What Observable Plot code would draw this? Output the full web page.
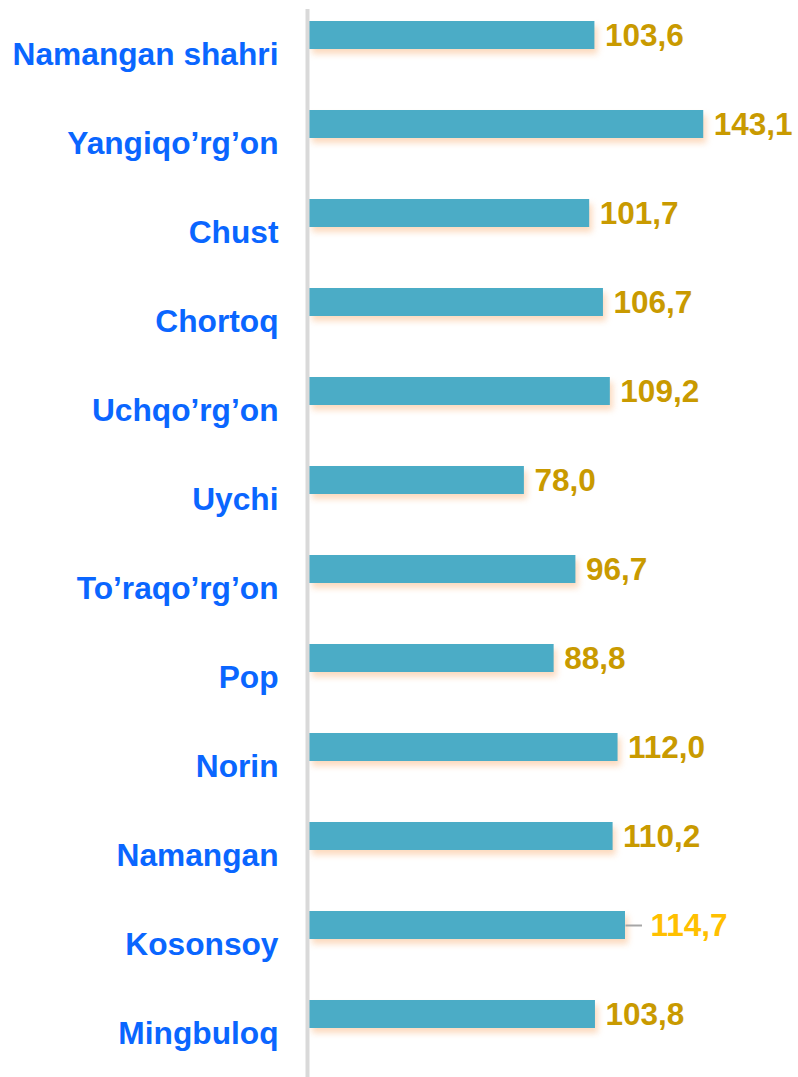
<!DOCTYPE html>
<html>
<head>
<meta charset="utf-8">
<script src="https://cdn.jsdelivr.net/npm/d3@7"></script>
<script src="https://cdn.jsdelivr.net/npm/@observablehq/plot@0.6"></script>
<style>
  html, body { margin: 0; padding: 0; background: #fff; }
  #chart svg { display: block; }
</style>
</head>
<body>
<div id="chart"></div>
<script>
const districts = ["Namangan shahri", "Yangiqo’rg’on", "Chust", "Chortoq", "Uchqo’rg’on", "Uychi", "To’raqo’rg’on", "Pop", "Norin", "Namangan", "Kosonsoy", "Mingbuloq"];
const values = [103.6, 143.1, 101.7, 106.7, 109.2, 78.0, 96.7, 88.8, 112.0, 110.2, 114.7, 103.8];

const data = districts.map((name, i) => ({name, value: values[i]}));
const fmt = v => v.toFixed(1).replace(".", ",");
const highlight = "Kosonsoy";
const shadow = "drop-shadow(3px 5px 3px rgba(247,150,70,0.35))";

const chart = Plot.plot({
  width: 798,
  height: 1077,
  marginLeft: 309,
  marginRight: 0,
  marginTop: 9,
  marginBottom: 0,
  style: {fontFamily: "'Liberation Sans', Arial, sans-serif", fontWeight: "bold", background: "#fff"},
  x: {domain: [0, 177.5], axis: null},
  y: {domain: districts, paddingInner: 0.687, paddingOuter: 0.3166, align: 0.194, axis: null, label: null},
  marks: [
    Plot.barX(data, {y: "name", x: "value", fill: "#4BACC6"}),
    Plot.ruleX([0], {stroke: "#d9d9d9", strokeWidth: 4, dx: -2}),
    Plot.link(data.filter(d => d.name === highlight), {x1: "value", x2: d => d.value + 6, y1: "name", y2: "name", stroke: "#a6a6a6", strokeWidth: 2}),
    Plot.text(data.filter(d => d.name !== highlight), {
      y: "name", x: "value", text: d => fmt(d.value),
      textAnchor: "start", dx: 10,
      fill: "#C99A00", fontSize: 31.5, fontWeight: "bold"
    }),
    Plot.text(data.filter(d => d.name === highlight), {
      y: "name", x: "value", text: d => fmt(d.value),
      textAnchor: "start", dx: 25,
      fill: "#FFC000", fontSize: 31.5, fontWeight: "bold"
    }),
    Plot.axisY({tickSize: 0, tickPadding: 31, dy: 19, fontSize: 31.7, fontWeight: "bold", color: "#0A66FF", label: null})
  ]
});
d3.select(chart).selectAll("g[aria-label='bar'] rect").style("filter", shadow);
document.getElementById("chart").appendChild(chart);
</script>
</body>
</html>
